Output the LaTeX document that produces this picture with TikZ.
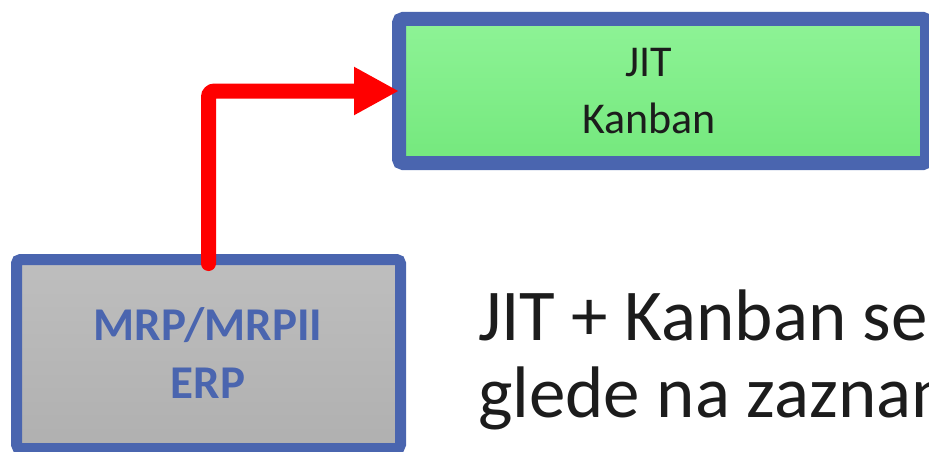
\documentclass[tikz,border=0pt]{standalone}
\usepackage{fontspec}
\setmainfont{Carlito}
\usetikzlibrary{arrows.meta}
\definecolor{boxblue}{RGB}{74,101,175}
\definecolor{jittop}{RGB}{142,243,150}
\definecolor{jitbot}{RGB}{116,232,125}
\definecolor{mrptop}{RGB}{190,190,190}
\definecolor{mrpbot}{RGB}{176,176,176}
\definecolor{inktext}{RGB}{28,28,28}
\tikzset{
  box/.style={draw=boxblue,rounded corners=4pt,inner sep=0pt,outer sep=0pt},
  flow/.style={draw=red,line width=15pt,line cap=round,rounded corners=6pt,
    -{Triangle[length=45pt,width=45pt]}},
  say/.style={text=inktext,inner sep=0pt,anchor=base west,
    font=\fontsize{73}{80}\selectfont}
}
\begin{document}
\begin{tikzpicture}[x=1pt,y=-1pt]
\useasboundingbox (0,0) rectangle (929,452);
\clip (0,0) rectangle (929,452);
% boxes
\node[box,line width=14pt,top color=jittop,bottom color=jitbot,
  minimum width=528pt,minimum height=144pt] (jit) at (663,91) {};
\node[box,line width=11pt,top color=mrptop,bottom color=mrpbot,
  minimum width=384pt,minimum height=189pt] (mrp) at (208.5,354) {};
% box texts
\node[text=inktext,anchor=base,font=\fontsize{44}{50}\selectfont] (jitA) at (649,77) {JIT};
\node[text=inktext,anchor=base,font=\fontsize{44}{50}\selectfont] (jitB) at (649,133) {Kanban};
\node[text=boxblue,anchor=base,font=\bfseries\fontsize{47}{54}\selectfont] (mrpA) at (208,340) {MRP/MRPII};
\node[text=boxblue,anchor=base,font=\bfseries\fontsize{47}{54}\selectfont] (mrpB) at (208,398) {ERP};
% arrow
\draw[flow] ([yshift=-4pt]mrp.north) |- (jit.west);
% note
\node[say] (noteA) at (478,340) {JIT + Kanban se};
\node[say] (noteB) at (478,417) {glede na zaznan};
\end{tikzpicture}
\end{document}
